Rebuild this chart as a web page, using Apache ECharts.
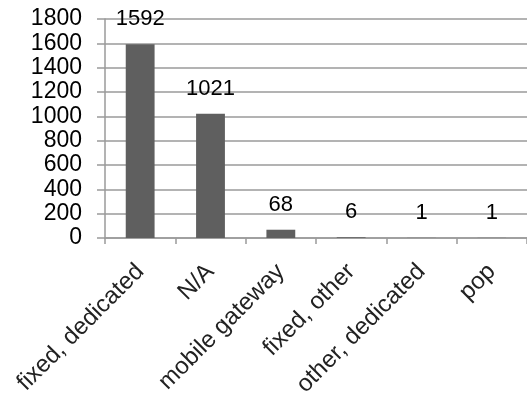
<!DOCTYPE html>
<html><head><meta charset="utf-8">
<script src="https://cdn.jsdelivr.net/npm/echarts@6/dist/echarts.min.js"></script>
<style>html,body{margin:0;padding:0;background:#fff}#c{width:527px;height:402px}</style>
</head><body><div id="c"></div>
<script>
const categories = ["fixed, dedicated", "N/A", "mobile gateway", "fixed, other", "other, dedicated", "pop"];
const values = [1592, 1021, 68, 6, 1, 1];
const yMin = 0, yMax = 1800, yStep = 200;

const FONT = '"Liberation Sans", Arial, sans-serif';
const chart = echarts.init(document.getElementById('c'), null, {renderer: 'canvas'});
chart.setOption({
  animation: false,
  backgroundColor: '#ffffff',
  grid: {left: 105, right: 0, top: 19, bottom: 164, containLabel: false},
  xAxis: {
    type: 'category',
    data: categories,
    axisLine: {show: true, lineStyle: {color: '#9a9a9a', width: 1.5}},
    axisTick: {show: true, length: 6, lineStyle: {color: '#9a9a9a', width: 1.5}},
    axisLabel: {rotate: 45, margin: 30, color: '#222', fontSize: 24, fontFamily: FONT, interval: 0}
  },
  yAxis: {
    type: 'value',
    min: yMin, max: yMax, interval: yStep,
    axisLine: {show: true, lineStyle: {color: '#9a9a9a', width: 1.5}},
    axisTick: {show: true, inside: false, length: 8, lineStyle: {color: '#9a9a9a', width: 1.5}},
    splitLine: {show: true, lineStyle: {color: '#9a9a9a', width: 1.5}},
    axisLabel: {color: '#000', fontSize: 23, fontFamily: FONT, margin: 23, formatter: v => String(v)}
  },
  series: [{
    type: 'bar',
    data: values,
    barWidth: '41%',
    itemStyle: {color: '#5f5f5f'},
    label: {show: true, position: 'top', distance: 14, color: '#000', fontSize: 22, fontFamily: FONT}
  }]
});
</script></body></html>
